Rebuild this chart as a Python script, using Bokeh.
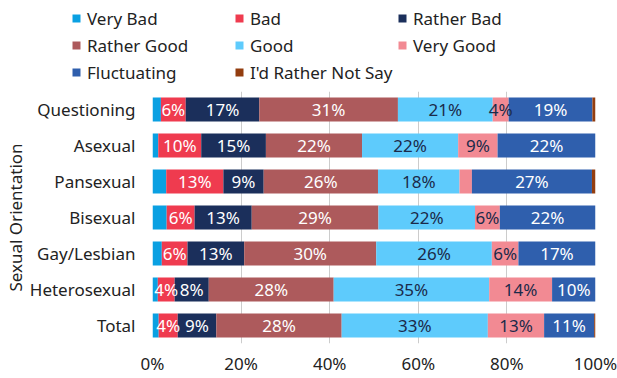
from bokeh.plotting import figure
from bokeh.layouts import column
from bokeh.models import ColumnDataSource, FactorRange, Range1d, FixedTicker, Legend, LegendItem
from bokeh.core.properties import value
from bokeh.embed import file_html
from bokeh.resources import INLINE

categories = ["Questioning", "Asexual", "Pansexual", "Bisexual", "Gay/Lesbian", "Heterosexual", "Total"]
series_names = ["Very Bad", "Bad", "Rather Bad", "Rather Good", "Good", "Very Good", "Fluctuating", "I'd Rather Not Say"]
very_bad    = [1.9, 1.3, 3.1, 3.2, 2.1, 1.2, 1.4]
bad         = [5.6, 9.7, 12.9, 6.3, 5.8, 3.8, 4.3]
rather_bad  = [16.6, 14.6, 9.1, 12.9, 12.8, 7.7, 8.7]
rather_good = [31.3, 21.7, 25.8, 28.6, 29.8, 28.2, 28.3]
good        = [21.4, 21.7, 18.4, 21.8, 26.1, 35.1, 33.0]
very_good   = [3.6, 8.9, 2.8, 5.6, 6.0, 14.2, 12.7]
fluctuating = [18.9, 22.1, 27.1, 21.6, 17.4, 9.8, 11.3]
not_say     = [0.7, 0.0, 0.8, 0.0, 0.0, 0.0, 0.3]
x_ticks = [0, 20, 40, 60, 80, 100]

colors = ["#0aa0e2", "#ef3b4f", "#1b2f5b", "#ad5a5c", "#5ecbfc", "#f28a93", "#2f5fad", "#933d0f"]
label_colors = ["#ffffff", "#ffffff", "#ffffff", "#ffffff", "#1b2a4a", "#1b2a4a", "#ffffff", "#ffffff"]
FONT = "Noto Sans"
FS = "17px"
TEXT_COLOR = "#222222"

W = 617
LEG_H = 91
MAIN_H = 378 - LEG_H

values = [very_bad, bad, rather_bad, rather_good, good, very_good, fluctuating, not_say]
keys = ["s%d" % i for i in range(len(values))]
data = {"cat": categories}
for k, v in zip(keys, values):
    data[k] = v
source = ColumnDataSource(data)

# ---------------- main chart ----------------
p = figure(width=W, height=MAIN_H, output_backend="svg", toolbar_location=None,
           y_range=FactorRange(factors=categories[::-1], range_padding=0),
           x_range=Range1d(0, 100),
           min_border_left=152, min_border_right=22, min_border_top=0, min_border_bottom=35)
p.outline_line_color = None
p.frame_align = False

p.hbar_stack(keys, y="cat", height=0.67, color=colors, line_color=None, source=source)

lx, ly, lt, lc = [], [], [], []
for ci, cat in enumerate(categories):
    cum = 0.0
    for si, v in enumerate(values):
        val = v[ci]
        if val >= 3.5:
            lx.append(cum + val / 2)
            ly.append(cat)
            lt.append("%d%%" % int(val + 0.5))
            lc.append(label_colors[si])
        cum += val
lsrc = ColumnDataSource(dict(x=lx, y=ly, t=lt, c=lc))
p.text(x="x", y="y", text="t", text_color="c", source=lsrc, text_align="center",
       text_baseline="middle", text_font=value(FONT), text_font_size=FS)

p.xaxis.ticker = FixedTicker(ticks=x_ticks)
p.xaxis.major_label_overrides = {t: "%d%%" % t for t in x_ticks}
p.xaxis.axis_line_color = None
p.xaxis.major_tick_line_color = None
p.xaxis.minor_tick_line_color = None
p.xaxis.major_tick_out = 0
p.xaxis.major_tick_in = 0
p.xaxis.minor_tick_out = 0
p.xaxis.major_label_standoff = 8
p.xaxis.major_label_text_font = FONT
p.xaxis.major_label_text_font_size = FS
p.xaxis.major_label_text_color = TEXT_COLOR

p.yaxis.axis_line_color = None
p.yaxis.major_tick_line_color = None
p.yaxis.major_tick_out = 0
p.yaxis.major_tick_in = 0
p.yaxis.major_label_standoff = 17
p.yaxis.major_label_text_font = FONT
p.yaxis.major_label_text_font_size = FS
p.yaxis.major_label_text_color = TEXT_COLOR
p.yaxis.axis_label = "Sexual Orientation"
p.yaxis.axis_label_text_font = FONT
p.yaxis.axis_label_text_font_size = FS
p.yaxis.axis_label_text_font_style = "normal"
p.yaxis.axis_label_text_color = TEXT_COLOR
p.yaxis.axis_label_standoff = 0

p.xgrid.ticker = FixedTicker(ticks=x_ticks)
p.xgrid.grid_line_color = "#cccccc"
p.xgrid.grid_line_width = 1
p.ygrid.grid_line_color = None

# ---------------- legend strip ----------------
lf = figure(width=W, height=LEG_H, output_backend="svg", toolbar_location=None,
            x_range=Range1d(0, 1), y_range=Range1d(0, 1), x_axis_type=None, y_axis_type=None,
            min_border=0)
lf.outline_line_color = None
lf.grid.visible = False
lf.frame_align = False
# zero-size swatch renderers, used only to give the legend its colour keys
swatches = [lf.hbar(y=[0], left=[0], right=[0], height=0, color=c, line_color=None) for c in colors]

columns = [[0, 3, 6], [1, 4, 7], [2, 5]]
col_x = [71, 234, 397]
ITEM_H = 23
GAP = 4
TOP = 6.5
for cols, cx in zip(columns, col_x):
    items = [LegendItem(label=series_names[i], renderers=[swatches[i]]) for i in cols]
    h = len(cols) * ITEM_H + (len(cols) - 1) * GAP
    leg = Legend(items=items, location=(cx, LEG_H - TOP - h), orientation="vertical",
                 glyph_width=10, glyph_height=10, label_height=ITEM_H, label_standoff=6, spacing=GAP,
                 padding=0, margin=0, background_fill_alpha=0, border_line_alpha=0,
                 label_text_font=FONT, label_text_font_size=FS, label_text_color=TEXT_COLOR)
    lf.add_layout(leg, "center")

layout = column(lf, p, spacing=0)
open("out.html", "w").write(file_html(layout, INLINE))
